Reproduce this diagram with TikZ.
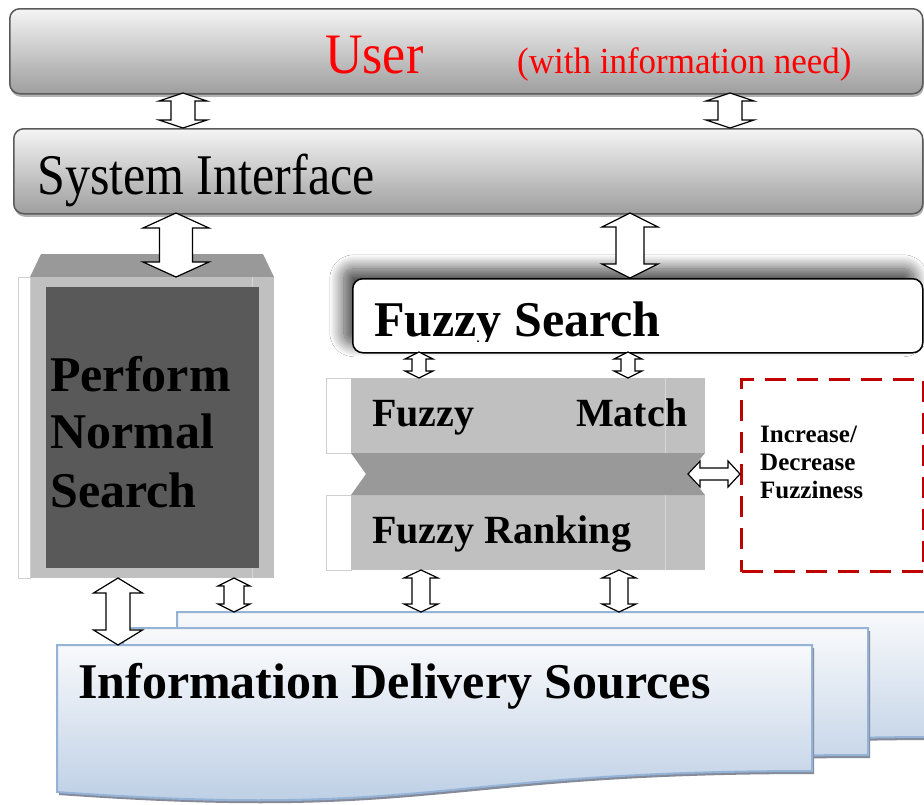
\documentclass[tikz,border=0pt]{standalone}
\usepackage{fontspec}
\setmainfont{Liberation Serif}
\usetikzlibrary{shadows,shadows.blur,calc}

\definecolor{perfdark}{HTML}{595959}
\definecolor{blockgray}{HTML}{C0C0C0}
\definecolor{bandgray}{HTML}{999999}
\definecolor{fuzzred}{HTML}{C00000}
\definecolor{docline}{HTML}{95B3D7}
\definecolor{doctop}{HTML}{F8F9FB}
\definecolor{docbottom}{HTML}{B7CBE3}
\definecolor{docshadow}{HTML}{858A99}
\definecolor{barline}{HTML}{5A5A5A}
\definecolor{stripline}{HTML}{D0D0D0}
\definecolor{seamgray}{HTML}{D8D8D8}

% hollow double-headed block arrows between two named points
% #1 top point, #2 bottom point, #3 half shaft, #4 half head, #5 head length
\newcommand\vboth[5]{%
  \draw[blockarrow] let \p1=(#1), \p2=(#2) in
    (\x1,\y1) -- (\x1+#4,\y1-#5) -- (\x1+#3,\y1-#5) -- (\x1+#3,\y2+#5)
    -- (\x1+#4,\y2+#5) -- (\x1,\y2) -- (\x1-#4,\y2+#5) -- (\x1-#3,\y2+#5)
    -- (\x1-#3,\y1-#5) -- (\x1-#4,\y1-#5) -- cycle;}
% #1 left point, #2 right point, same size arguments
\newcommand\hboth[5]{%
  \draw[blockarrow] let \p1=(#1), \p2=(#2) in
    (\x1,\y1) -- (\x1+#5,\y1+#4) -- (\x1+#5,\y1+#3) -- (\x2-#5,\y1+#3)
    -- (\x2-#5,\y1+#4) -- (\x2,\y1) -- (\x2-#5,\y1-#4) -- (\x2-#5,\y1-#3)
    -- (\x1+#5,\y1-#3) -- (\x1+#5,\y1-#4) -- cycle;}

\tikzset{
  greybar/.style={draw=barline, line width=1.5pt, rounded corners=10pt,
    top color=black!4, bottom color=black!38,
    drop shadow={shadow xshift=1pt, shadow yshift=-3pt, fill=black!30, opacity=1},
    anchor=north west, inner sep=0pt},
  docshape/.style={draw=docline, line width=2pt, top color=doctop, bottom color=docbottom,
    drop shadow={shadow xshift=2pt, shadow yshift=-3pt, fill=docshadow, opacity=1}},
  blockarrow/.style={draw=black, fill=white, line width=1.2pt, line join=miter},
  panel/.style={fill=blockgray, anchor=north west, inner sep=0pt},
  txt/.style={anchor=base west, inner sep=0pt},
  bigbold/.style={txt, font=\fontsize{50}{58}\selectfont\bfseries},
  midbold/.style={txt, font=\fontsize{40}{46}\selectfont\bfseries},
  smallbold/.style={txt, font=\fontsize{25}{28}\selectfont\bfseries},
}

\begin{document}
\begin{tikzpicture}[x=1pt,y=-1pt]
\fill[white] (0,0) rectangle (924,804);
\useasboundingbox (0,0) rectangle (924,804);

% ---- stacked information sources (back to front) ----
\draw[docshape] (177,612) -- (940,612) -- (940,737)
  .. controls (558,737) and (558,785) .. (177,758) -- cycle;
\draw[docshape] (123,628) -- (868,628) -- (868,755)
  .. controls (495,755) and (495,804) .. (123,776) -- cycle;
\draw[docshape] (57,645) -- (812,645) -- (812,771)
  .. controls (434,771) and (434,819) .. (57,792) -- cycle;
\node[bigbold] (ids) at (78,698) {Information Delivery Sources};

% ---- normal search block ----
\fill[bandgray] (41,254) -- (263,254) -- (274,277) -- (30,277) -- cycle;
\node[panel, minimum width=244pt, minimum height=301pt] (perf) at (30,277) {};
\draw[stripline, line width=1pt, fill=white] (18,277) rectangle (30,578);
\draw[seamgray, line width=1pt] (252,277) -- (252,578);
\node[fill=perfdark, anchor=north west, inner sep=0pt,
      minimum width=213pt, minimum height=281pt] (perfin) at (46,287) {};
\node[bigbold] (pn1) at (50,391) {Perform};
\node[bigbold] (pn2) at (50,448) {Normal};
\node[bigbold] (pn3) at (50,507) {Search};

% ---- fuzzy match / ranking block ----
\draw[stripline, line width=1pt, fill=white] (326,378) rectangle (351,453);
\node[panel, minimum width=354pt, minimum height=75pt] (fmatch) at (351,378) {};
\draw[stripline, line width=1pt, fill=white] (326,495) rectangle (351,570);
\node[panel, minimum width=354pt, minimum height=75pt] (frank) at (351,495) {};
\draw[seamgray, line width=1pt] (665,378) -- (665,453) (665,495) -- (665,570);
\fill[bandgray] (351,453) -- (705,453) -- (688,474) -- (705,495)
  -- (351,495) -- (366,474) -- cycle;
\coordinate (bandtip) at (688,474);
\node[midbold] (fm1) at (372,426) {Fuzzy};
\node[midbold] (fm2) at (576,426) {Match};
\node[midbold] (fr) at (372,543) {Fuzzy Ranking};

% ---- fuzzy search bar ----
\node[draw=black, line width=1.5pt, fill=white, rounded corners=10pt,
      anchor=north west, inner sep=0pt, minimum width=570pt, minimum height=74pt,
      blur shadow={shadow xshift=-9pt, shadow yshift=10pt,
                   shadow blur radius=14pt, shadow blur steps=24,
                   shadow opacity=75}] (fsearch) at (352,278) {};
\begin{scope}
  \clip (352,270) rectangle (922,341);
  \node[txt, font=\fontsize{50}{56}\selectfont\bfseries] (fst) at (374,336) {Fuzzy Search};
\end{scope}

% ---- user and interface bars ----
\node[greybar, minimum width=913pt, minimum height=85pt] (user) at (9,8) {};
\node[txt, text=red, font=\fontsize{52}{60}\selectfont] (usr) at (325,73) {\scalebox{1}[1.1]{User}};
\node[txt, text=red, font=\fontsize{35}{40}\selectfont] (need) at (517,73) {\scalebox{1}[1.05]{(with information need)}};
\node[greybar, minimum width=909pt, minimum height=85pt] (si) at (13,128) {};
\node[txt, font=\fontsize{50}{58}\selectfont] (sit) at (37,194) {\scalebox{1}[1.15]{System Interface}};

% ---- fuzziness control ----
\node[draw=fuzzred, line width=3pt, dash pattern=on 21pt off 11pt,
      anchor=north west, inner sep=0pt, minimum width=182pt, minimum height=192pt] (fuzz) at (740,378) {};
\node[smallbold] (fz1) at (760,442) {Increase/};
\node[smallbold] (fz2) at (760,470) {Decrease};
\node[smallbold] (fz3) at (760,498) {Fuzziness};

% ---- connector end points ----
\coordinate (u1t) at (183,93);  \coordinate (u1b) at (183,128);
\coordinate (u2t) at (730,93);  \coordinate (u2b) at (730,128);
\coordinate (s1t) at (176,213); \coordinate (s1b) at (176,277);
\coordinate (s2t) at (630,213); \coordinate (s2b) at (630,278);
\coordinate (f1t) at (419,352); \coordinate (f1b) at (419,378);
\coordinate (f2t) at (628,352); \coordinate (f2b) at (628,378);
\coordinate (r1t) at (421,570); \coordinate (r1b) at (421,612);
\coordinate (r2t) at (619,570); \coordinate (r2b) at (619,612);
\coordinate (p1t) at (118,578); \coordinate (p1b) at (118,645);
\coordinate (p2t) at (234,578); \coordinate (p2b) at (234,612);

% ---- connectors ----
\vboth{u1t}{u1b}{12pt}{24pt}{8pt}
\vboth{u2t}{u2b}{12pt}{24pt}{8pt}
\vboth{s1t}{s1b}{16.5pt}{33pt}{15pt}
\vboth{s2t}{s2b}{14pt}{28pt}{14pt}
\vboth{f1t}{f1b}{7pt}{14pt}{7pt}
\vboth{f2t}{f2b}{7pt}{14pt}{7pt}
\vboth{r1t}{r1b}{9pt}{17pt}{8pt}
\vboth{r2t}{r2b}{9pt}{17pt}{8pt}
\vboth{p1t}{p1b}{12pt}{24.5pt}{15pt}
\vboth{p2t}{p2b}{10pt}{16pt}{8pt}
\hboth{bandtip}{fuzz.west}{6pt}{13pt}{12pt}
\end{tikzpicture}
\end{document}
